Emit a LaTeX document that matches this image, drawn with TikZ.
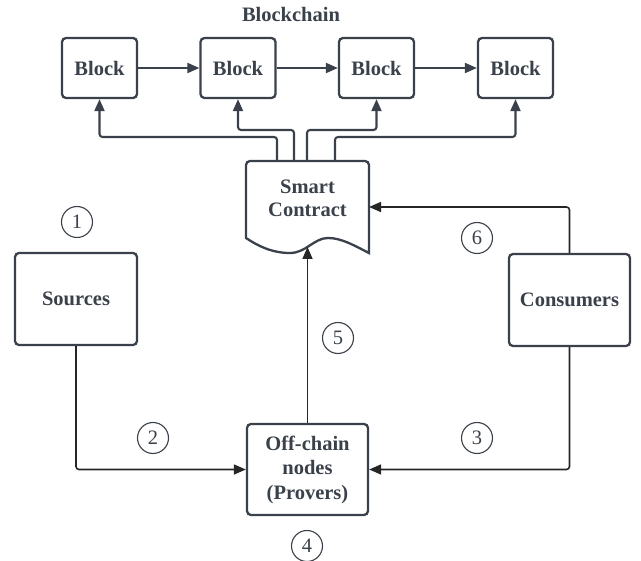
\documentclass[tikz,border=0pt]{standalone}
\usepackage{fontspec}
\setmainfont{Liberation Serif}
\usetikzlibrary{arrows.meta}
\definecolor{dgray}{HTML}{3A414A}

\begin{document}
\begin{tikzpicture}[x=1pt,y=1pt]
\tikzstyle{every node}+=[font=\fontsize{20.5}{24}\selectfont, text=dgray]
\tikzstyle{box}=[draw=dgray, line width=2.3pt, rounded corners=4pt, align=center, font=\fontsize{20.5}{24.5}\selectfont\bfseries]
\tikzstyle{num}=[draw=dgray, circle, line width=1.1pt, minimum size=31pt, inner sep=0pt]
\tikzstyle{uplink}=[draw=dgray, line width=2.1pt, rounded corners=3pt, -{Triangle[length=12pt,width=10pt]}]
\tikzstyle{link}=[draw=black!85, line width=1.6pt, rounded corners=3pt, -{Triangle[length=12pt,width=10pt]}]
\useasboundingbox (0,0) rectangle (641,-561);
% blockchain
\node[font=\fontsize{20.5}{24}\selectfont\bfseries] (title) at (291,-14) {Blockchain};
\node[box, minimum width=75pt, minimum height=60pt] (b1) at (99.5,-68) {Block};
\node[box, minimum width=75pt, minimum height=60pt] (b2) at (238,-68) {Block};
\node[box, minimum width=75pt, minimum height=60pt] (b3) at (376.5,-68) {Block};
\node[box, minimum width=75pt, minimum height=60pt] (b4) at (515.5,-68) {Block};
\draw[uplink] (b1) -- (b2);
\draw[uplink] (b2) -- (b3);
\draw[uplink] (b3) -- (b4);
% smart contract
\node[font=\fontsize{20.5}{23.5}\selectfont\bfseries, align=center] (sc) at (307.5,-198.5) {Smart\\Contract};
\draw[dgray, line width=2.3pt] (246,-238) [rounded corners=4pt] -- (246,-161) -- (369,-161) [sharp corners] -- (369,-253)
  .. controls (355,-246) and (342,-238) .. (328,-238)
  .. controls (314,-238) and (306,-253) .. (290,-253)
  .. controls (272,-253) and (258,-246) .. (246,-238) -- cycle;
\coordinate (t1) at (277,-161);
\coordinate (t2) at (294,-161);
\coordinate (t3) at (307,-161);
\coordinate (t4) at (335,-161);
\coordinate (scin) at (307.5,-247);
\coordinate (scr) at (369,-207);
\draw[uplink] (t1) -- (277,-137) -| (b1);
\draw[uplink] (t2) -- (294,-130) -| (b2);
\draw[uplink] (t3) -- (307,-130) -| (b3);
\draw[uplink] (t4) -- (335,-137) -| (b4);
% lower part
\node[box, minimum width=122pt, minimum height=92pt] (src) at (76,-299) {Sources};
\node[box, minimum width=121pt, minimum height=92pt] (co) at (569.5,-300) {Consumers};
\node[box, minimum width=121pt, minimum height=91pt] (oc) at (307.5,-469.5) {Off-chain\\nodes\\(Provers)};
\draw[link] (src) |- (oc);
\draw[link] (co) |- (oc);
\draw[link] (oc) -- (scin);
\draw[link] (co) |- (scr);
% numbers
\node[num] (n1) at (77,-222) {1};
\node[num] (n2) at (153,-438) {2};
\node[num] (n3) at (477,-438) {3};
\node[num] (n4) at (307,-546) {4};
\node[num] (n5) at (338,-338) {5};
\node[num] (n6) at (477,-238) {6};
\end{tikzpicture}
\end{document}
